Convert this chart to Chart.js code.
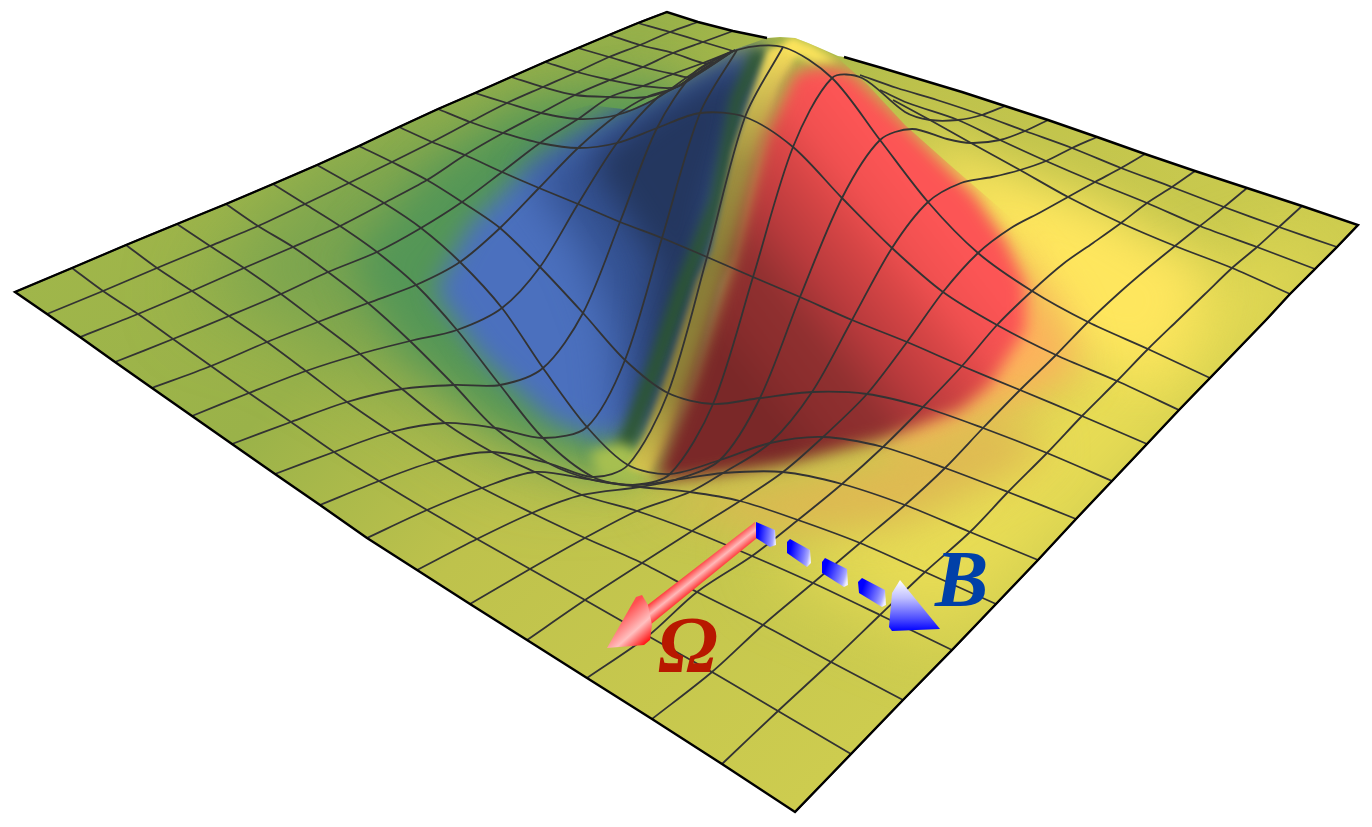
<!DOCTYPE html>
<html><head><meta charset="utf-8">
<style>html,body{margin:0;padding:0;background:#fff}canvas{display:block}</style>
<script src="https://cdn.jsdelivr.net/npm/chart.js@4"></script>
</head><body><canvas id="c" width="1372" height="827"></canvas>
<script>
// Mesh nodes: one row per grid line, [horizontal, vertical] per crossing.
const row0=[[15,292],[72,268],[126,245],[177,224],[226,204],[273,184],[317,165],[359,146],[399,127],[438,109],[475,93],[511,77],[545,62],[578,48],[609,35],[638,23],[667,12]];
const row1=[[47,314],[103,291],[157,268],[210,246],[258,226],[305,204],[349,183],[392,162],[432,142],[470,122],[507,103],[543,87],[577,72],[609,57],[640,45],[670,32],[698,22]];
const row2=[[80,337],[138,314],[192,291],[244,268],[293,247],[340,226],[384,203],[427,180],[465,155],[503,133],[541,113],[575,95],[610,80],[643,67],[673,53],[703,42],[733,31]];
const row3=[[115,362],[173,339],[229,316],[281,294],[328,272],[377,252],[421,228],[462,202],[502,172],[540,143],[578,119],[610,97],[643,86],[673,74],[703,63],[733,51],null];
const row4=[[152,388],[211,366],[267,342],[318,322],[368,303],[416,285],[460,262],[500,228],[539,188],[578,148],[617,115],[647,97],[677,87],[691,77],[713,63],null,null];
const row5=[[192,416],[249,393],[306,371],[360,354],[410,341],[457,330],[502,308],[540,267],[578,204],[617,143],[657,98],[680,85],[705,68],[730,53],null,null,null];
const row6=[[232,444],[291,422],[347,402],[402,389],[454,385],[500,385],[543,368],[583,313],[620,222],[657,128],[695,72],[735,50],null,null,null,[860,75],[882,68]];
const row7=[[275,474],[334,452],[391,432],[445,423],[495,428],[543,438],[587,427],[625,360],[662,238],[700,113],[737,50],null,null,null,[880,90],[897,88],[922,80]];
const row8=[[320,505],[379,481],[436,461],[492,452],[548,463],[593,477],[628,465],[668,393],[707,257],[745,117],[783,47],null,null,[893,100],[908,103],[937,100],[962,92]];
const row9=[[367,538],[427,510],[482,488],[535,472],[593,480],[633,485],[670,474],[713,404],[753,277],[793,147],[832,78],[862,78],[905,112],[930,120],[958,120],[982,115],[1005,106]];
const row10=[[417,570],[477,539],[532,513],[582,495],[640,487],[675,480],[720,460],[760,398],[800,297],[842,198],[880,140],[912,129],[947,139],[971,143],[1000,140],[1025,131],[1048,120]];
const row11=[[470,604],[530,569],[585,538],[637,511],[690,492],[723,473],[770,443],[812,392],[852,320],[892,248],[928,202],[961,183],[992,177],[1020,170],[1046,161],[1072,148],[1097,137]];
const row12=[[527,640],[585,600],[642,563],[692,531],[740,501],[783,472],[823,437],[867,394],[907,342],[943,292],[978,253],[1011,228],[1041,212],[1068,197],[1095,182],[1121,168],[1145,154]];
const row13=[[587,678],[648,636],[697,592],[752,556],[798,520],[842,484],[883,447],[923,407],[962,366],[997,325],[1032,291],[1063,264],[1093,243],[1121,223],[1147,203],[1172,187],[1195,171]];
const row14=[[652,719],[712,672],[763,625],[813,583],[860,543],[905,505],[945,468],[983,428],[1020,390],[1056,355],[1088,322],[1119,293],[1148,268],[1175,246],[1200,226],[1224,207],[1247,188]];
const row15=[[722,764],[778,711],[831,662],[880,615],[925,572],[970,532],[1008,492],[1047,453],[1082,416],[1117,381],[1148,349],[1178,320],[1205,294],[1232,268],[1257,247],[1279,227],[1302,206]];
const row16=[[795,812],[851,754],[903,700],[952,650],[996,604],[1038,560],[1076,519],[1112,481],[1147,444],[1179,410],[1210,378],[1239,348],[1266,320],[1290,294],[1315,269],[1337,247],[1358,225]];
const rows=[row0,row1,row2,row3,row4,row5,row6,row7,row8,row9,row10,row11,row12,row13,row14,row15,row16];

// Outlines
const farEdgeLeft=[[667,12],[698,22],[733,31],[767,38]];
const peakTop=[[780,37],[795,38],[808,43],[822,49],[838,56]];
const farEdgeRight=[[844,57],[882,68],[922,80],[962,92],[1005,106],[1048,120],[1097,137],[1145,154],[1195,171],[1247,188],[1302,206],[1358,225]];
const nearEdgeLeft=rows.map(r=>r[0]);
const surfaceOutline=[...farEdgeLeft,...peakTop,...farEdgeRight,...row16.slice().reverse(),...nearEdgeLeft.slice().reverse(),...row0];
const frameEdge=[...farEdgeLeft.slice().reverse(),...row0.slice().reverse(),...nearEdgeLeft,...row16,...farEdgeRight.slice().reverse()];
const frontFace=[[380,440],[400,200],[500,130],[590,105],[630,110],[657,98],[680,85],[705,68],[733,50],[767,38],[795,38],[808,43],[822,49],[838,58],[868,85],[905,125],[950,165],[1060,260],[1100,500],[600,560]];
const warmFieldRegion=[[760,560],[950,470],[1100,330],[1250,260],[1340,240],[1200,400],[1040,560],[950,640]];
const yellowRegion=[[905,130],[1000,170],[1100,205],[1210,270],[1190,340],[1150,380],[1060,350],[1000,260]];
const orangeRegion=[[1000,240],[1060,310],[1080,370],[1020,400],[960,430],[900,460],[880,420]];
const brownRegion=[[640,500],[760,490],[900,460],[1000,420],[1050,450],[900,520],[780,530]];
const wideGreenRegion=[[190,300],[300,180],[430,115],[560,75],[690,75],[640,300],[640,470],[520,470],[400,390],[280,320]];
const greenRegion=[[350,260],[430,170],[520,110],[640,90],[690,85],[620,300],[640,470],[590,470],[500,430],[400,350]];
const blueRegion=[[435,290],[470,225],[530,165],[600,125],[650,105],[735,55],[760,50],[700,300],[640,425],[600,440],[550,420],[480,355]];
const midBlueRegion=[[530,175],[640,110],[740,55],[700,250],[650,420],[625,445],[615,330],[585,250]];
const navyRegion=[[590,160],[650,112],[745,55],[765,50],[715,200],[695,320],[660,420],[632,445],[645,370],[655,260]];
const darkGreenRegion=[[752,50],[768,50],[743,102],[723,200],[690,290],[664,365],[638,435],[625,458],[614,450],[624,428],[650,360],[676,284],[711,198],[731,98]];
const limeRegion=[[590,452],[622,442],[645,458],[640,482],[600,478]];
const ridgeRegion=[[768,50],[795,40],[800,50],[780,85],[760,150],[735,255],[720,285],[695,375],[670,440],[650,475],[628,468],[645,435],[670,365],[697,280],[712,250],[733,150],[757,80]];
const redRegion=[[795,72],[820,66],[850,72],[895,115],[935,155],[975,195],[1005,240],[1025,285],[1025,330],[990,385],[960,410],[880,440],[780,465],[690,478],[655,480],[665,450],[690,385],[730,265],[765,135]];
const peakRegion=[[790,38],[810,44],[838,62],[815,62],[795,55],[785,48]];

const omegaShaft=[[755,522],[757,538],[650,625],[645,607]];
const omegaCone=[[607,648],[636,597],[642,595],[648,605],[652,625],[650,640],[644,645]];
const dashOne=[[756,522],[775,530],[776,545],[770,547],[756,538]];
const dashTwo=[[787,542],[790,539],[810,550],[811,563],[807,567],[787,553]];
const dashThree=[[822,562],[825,558],[847,569],[848,585],[844,587],[822,573]];
const dashFour=[[858,582],[862,578],[885,590],[886,605],[882,607],[859,593]];
const fieldCone=[[940,629],[900,580],[892,593],[889,627],[892,631]];

const labelTexts=['Ω','B'];

const toPts=a=>a.map(p=>p?{x:p[0],y:p[1]}:{x:NaN,y:NaN});
const grad=(x0,y0,x1,y1,stops)=>c=>{
  const ch=c.chart,sx=ch.scales.x,sy=ch.scales.y;
  if(!sx||!sy)return stops[0][1];
  const g=ch.ctx.createLinearGradient(sx.getPixelForValue(x0),sy.getPixelForValue(y0),sx.getPixelForValue(x1),sy.getPixelForValue(y1));
  stops.forEach(s=>g.addColorStop(s[0],s[1]));
  return g;
};
const region=(pts,fillStyle,blur,clip)=>({type:'scatter',showLine:true,data:toPts(pts),pointRadius:0,borderWidth:0,tension:0,
  fillStyle,blur,regionClip:clip,parsing:false});
const mesh=pts=>({type:'scatter',showLine:true,data:toPts(pts),pointRadius:0,borderColor:'#333333',borderWidth:1.8,tension:.3,spanGaps:false,parsing:false});

const datasets=[
  region(surfaceOutline,grad(150,150,800,800,[[0,'#a0b64a'],[.29,'#9ab249'],[.55,'#bec24c'],[1,'#cdcc4f']]),0,null),
  region(warmFieldRegion,'#e8dc55',35,surfaceOutline),
  region(yellowRegion,'#fee65e',24,surfaceOutline),
  region(orangeRegion,'#fdb25c',20,surfaceOutline),
  region(brownRegion,'#e0b652',22,surfaceOutline),
  region(wideGreenRegion,'rgba(92,152,84,0.55)',40,surfaceOutline),
  region(greenRegion,'rgba(78,148,88,0.85)',20,surfaceOutline),
  region(blueRegion,'#4b70be',12,frontFace),
  region(midBlueRegion,'#33508f',22,frontFace),
  region(navyRegion,'#24375f',16,frontFace),
  region(darkGreenRegion,'#2c5630',6,frontFace),
  region(limeRegion,'#a6bf50',6,frontFace),
  region(ridgeRegion,grad(0,40,0,475,[[0,'#fde45c'],[.1,'#d8c455'],[.29,'#a09040'],[.5,'#8a7d38'],[.8,'#8f8238'],[.95,'#c8b84a'],[1,'#d8c850']]),3,frontFace),
  region(redRegion,grad(930,210,730,370,[[0,'#fc5555'],[.17,'#f05050'],[.3,'#d84646'],[.5,'#b83a3c'],[.68,'#903030'],[.83,'#8a2d2d'],[1,'#7a2828']]),8,frontFace),
  region(peakRegion,'#fde45c',4,frontFace)
];
rows.forEach(r=>datasets.push(mesh(r)));
for(let i=1;i<16;i++)datasets.push(mesh(rows.map(r=>r[i])));
datasets.push({type:'scatter',showLine:true,data:toPts(frameEdge),pointRadius:0,borderColor:'#000',borderWidth:2.4,tension:0,parsing:false});
const blueDash=(a,b,c,d)=>grad(a,b,c,d,[[0,'#0000ff'],[.65,'#7a7aff'],[.85,'#a8a8ff'],[1,'#eeeeff']]);
datasets.push(
  region(omegaShaft,grad(696,565,708,580,[[0,'#ff2a2a'],[.5,'#ffb8b8'],[1,'#ff2020']]),0,null),
  region(omegaCone,grad(625,612,650,640,[[0,'#ff5050'],[.55,'#ffc0c0'],[1,'#ff1010']]),0,null),
  region(dashOne,blueDash(758,535,776,537),0,null),
  region(dashTwo,blueDash(790,552,811,556),0,null),
  region(dashThree,blueDash(825,570,848,578),0,null),
  region(dashFour,blueDash(862,590,886,598),0,null),
  region(fieldCone,grad(905,580,905,631,[[0,'#ffffff'],[.35,'#c0c0ff'],[.75,'#5050ff'],[1,'#0000ff']]),0,null)
);
// Chart.js paints the last dataset first, so the paint order above is flipped here.
datasets.reverse();

const layerPlugin={id:'layers',
  beforeDatasetDraw(chart,args){
    const ds=chart.data.datasets[args.index];
    if(!ds.fillStyle)return;
    const ctx=chart.ctx,sx=chart.scales.x,sy=chart.scales.y;
    ctx.save();
    if(ds.regionClip){
      ctx.beginPath();
      ds.regionClip.forEach((p,k)=>{const X=sx.getPixelForValue(p[0]),Y=sy.getPixelForValue(p[1]);k?ctx.lineTo(X,Y):ctx.moveTo(X,Y);});
      ctx.closePath();ctx.clip();
    }
    if(ds.blur)ctx.filter='blur('+ds.blur+'px)';
    const f=ds.fillStyle;
    ctx.fillStyle=typeof f==='function'?f({chart}):f;
    ctx.beginPath();
    args.meta.dataset.path(ctx);
    ctx.closePath();
    ctx.fill();
    ctx.restore();
    return false;
  },
  afterDatasetsDraw(chart){
    const ctx=chart.ctx,sx=chart.scales.x,sy=chart.scales.y;
    ctx.save();
    ctx.font='italic bold 80px "Liberation Serif"';
    ctx.textBaseline='alphabetic';
    ctx.fillStyle='#b81800';
    ctx.fillText(labelTexts[0],sx.getPixelForValue(658),sy.getPixelForValue(672));
    ctx.fillStyle='#0040a8';
    ctx.fillText(labelTexts[1],sx.getPixelForValue(935),sy.getPixelForValue(606));
    ctx.restore();
  }
};

new Chart(document.getElementById('c'),{
  type:'scatter',
  data:{datasets},
  plugins:[layerPlugin],
  options:{responsive:false,animation:false,events:[],
    layout:{padding:0},
    plugins:{legend:{display:false},tooltip:{enabled:false},title:{display:false}},
    elements:{line:{fill:false}},
    scales:{
      x:{type:'linear',display:false,min:0,max:1372},
      y:{type:'linear',display:false,min:0,max:827,reverse:true}
    }
  }
});
</script></body></html>
